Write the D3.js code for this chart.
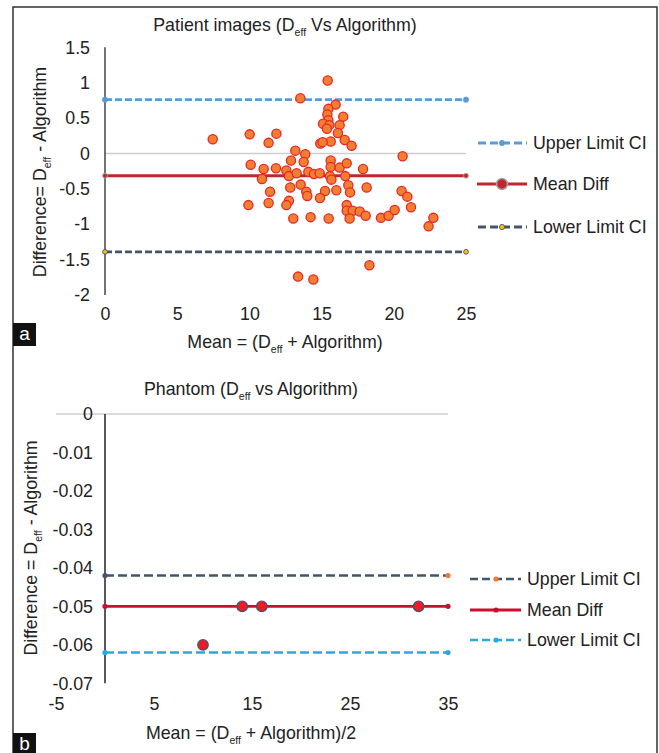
<!DOCTYPE html>
<html><head><meta charset="utf-8">
<script src="https://cdn.jsdelivr.net/npm/d3@7"></script>
<style>
html,body{margin:0;padding:0;background:#fff;}
text{font-family:"Liberation Sans",Arial,sans-serif;fill:#222;}
</style></head>
<body>
<svg id="chart" width="659" height="753"></svg>
<script>
// ---------- Panel a: patient images ----------
const patientMean = [7.46,10.02,11.87,11.33,13.53,15.42,15.97,15.47,15.40,15.47,15.10,15.54,15.37,16.50,16.25,16.13,16.60,17.08,15.63,14.91,15.07,13.18,13.87,20.61,10.09,10.99,11.84,10.87,12.88,13.76,15.63,15.63,16.25,16.74,17.87,12.56,12.74,13.27,14.08,14.47,14.87,15.58,15.68,16.64,16.85,16.97,18.12,16.02,15.24,13.55,12.83,13.94,14.01,14.89,11.43,11.33,9.93,12.74,12.56,13.04,14.24,15.49,16.74,16.74,17.15,16.94,17.64,18.05,19.11,19.64,20.06,20.54,20.94,21.19,22.41,22.74,18.31,13.37,14.43];
const patientDiff = [0.20,0.27,0.28,0.15,0.78,1.03,0.69,0.63,0.55,0.47,0.42,0.40,0.35,0.52,0.40,0.29,0.19,0.11,0.17,0.14,0.16,0.04,-0.01,-0.04,-0.16,-0.22,-0.21,-0.36,-0.10,-0.12,-0.10,-0.19,-0.20,-0.14,-0.22,-0.24,-0.32,-0.28,-0.26,-0.29,-0.28,-0.32,-0.37,-0.32,-0.45,-0.55,-0.48,-0.52,-0.53,-0.44,-0.48,-0.54,-0.60,-0.63,-0.54,-0.70,-0.73,-0.67,-0.73,-0.92,-0.90,-0.92,-0.73,-0.81,-0.81,-0.92,-0.82,-0.88,-0.91,-0.88,-0.80,-0.53,-0.61,-0.76,-1.03,-0.91,-1.58,-1.74,-1.78];
const patientLimitNames = ["Upper Limit CI","Mean Diff","Lower Limit CI"];
const patientLimitValues = [0.76,-0.315,-1.39];
const patientLimitRange = [0,25];
const patientXTicks = [0,5,10,15,20,25];
const patientYTicks = [1.5,1,0.5,0,-0.5,-1,-1.5,-2];

// ---------- Panel b: phantom ----------
const phantomMean = [14,16,32,10];
const phantomDiff = [-0.05,-0.05,-0.05,-0.06];
const phantomLimitNames = ["Upper Limit CI","Mean Diff","Lower Limit CI"];
const phantomLimitValues = [-0.042,-0.05,-0.062];
const phantomLimitRange = [0,35];
const phantomXTicks = [-5,5,15,25,35];
const phantomYTicks = [0,-0.01,-0.02,-0.03,-0.04,-0.05,-0.06,-0.07];

const svg = d3.select("#chart");
const FS = 17.8;

// frame
svg.append("path").attr("d","M13,753 L13,7 L657,7 L657,753")
  .attr("fill","none").attr("stroke","#333").attr("stroke-width",1.5);

function subText(g, x, y, parts, opts={}) {
  const t = g.append("text").attr("x",x).attr("y",y)
    .attr("text-anchor","middle").attr("font-size",FS);
  if (opts.rotate) t.attr("transform",`rotate(-90,${x},${y})`);
  parts.forEach(p=>{
    const s = t.append("tspan").text(p.t);
    if (p.sub) s.attr("font-size",10.5).attr("dy",5);
    if (p.after) s.attr("dy",-5);
  });
  return t;
}

function panelLabel(y, ch) {
  svg.append("rect").attr("x",13).attr("y",y).attr("width",23).attr("height",23).attr("fill","#111");
  svg.append("text").attr("x",24.5).attr("y",y+17).attr("text-anchor","middle")
    .attr("font-size",19).style("fill","#fff").text(ch);
}

// ===== Panel a =====
{
  const x = d3.scaleLinear().domain([0,25]).range([105,466]);
  const y = d3.scaleLinear().domain([-2,1.5]).range([295,47.3]);
  const g = svg.append("g");

  g.append("line").attr("x1",x(0)).attr("x2",x(25)).attr("y1",y(0)).attr("y2",y(0))
    .attr("stroke","#cfcfcf").attr("stroke-width",1.5);
  g.append("line").attr("x1",x(0)).attr("x2",x(0)).attr("y1",y(1.5)).attr("y2",y(-2))
    .attr("stroke","#444").attr("stroke-width",1.5);

  const ya = g.append("g").attr("transform",`translate(${x(0)},0)`)
    .call(d3.axisLeft(y).tickValues(patientYTicks).tickSize(0).tickPadding(15).tickFormat(d=>String(d)));
  ya.select(".domain").remove();
  ya.selectAll("text").attr("font-size",FS).attr("font-family",null).style("fill","#222");

  const xa = g.append("g").attr("transform",`translate(0,307)`)
    .call(d3.axisBottom(x).tickValues(patientXTicks).tickSize(0).tickPadding(0).tickFormat(d=>String(d)));
  xa.select(".domain").remove();
  xa.selectAll("text").attr("font-size",FS).attr("font-family",null).style("fill","#222");

  const styles = [
    {color:"#5b9bd5", dash:"7,3", w:2.8, mfill:"#5b9bd5", mstroke:"#5b9bd5", r:2.6, lr:2.6},
    {color:"#c0272d", dash:null, w:3, mfill:"#c0272d", mstroke:"#a5a5a5", r:2.4, lr:5.5},
    {color:"#44546a", dash:"7,3", w:2.8, mfill:"#ffc000", mstroke:"#44546a", r:2.4, lr:2.6}
  ];
  patientLimitValues.forEach((v,i)=>{
    const s = styles[i];
    const ln = g.append("line").attr("x1",x(patientLimitRange[0])).attr("x2",x(patientLimitRange[1]))
      .attr("y1",y(v)).attr("y2",y(v)).attr("stroke",s.color).attr("stroke-width",s.w);
    if (s.dash) ln.attr("stroke-dasharray",s.dash);
    patientLimitRange.forEach(xv=>{
      g.append("circle").attr("cx",x(xv)).attr("cy",y(v)).attr("r",s.r)
        .attr("fill",s.mfill).attr("stroke",s.mstroke).attr("stroke-width",0.9);
    });
  });

  g.selectAll("circle.pt").data(patientMean.map((m,i)=>[m,patientDiff[i]])).enter()
    .append("circle").attr("class","pt")
    .attr("cx",d=>x(d[0])).attr("cy",d=>y(d[1])).attr("r",4.6)
    .attr("fill","#f0802f").attr("stroke","#e8262a").attr("stroke-width",1.3);

  const ly = [143,184,227];
  patientLimitNames.forEach((n,i)=>{
    const s = styles[i];
    const ln = g.append("line").attr("x1",477).attr("x2",527).attr("y1",ly[i]).attr("y2",ly[i])
      .attr("stroke",s.color).attr("stroke-width",s.w);
    if (s.dash) ln.attr("stroke-dasharray","8,4").attr("stroke-dashoffset",-1);
    g.append("circle").attr("cx",502).attr("cy",ly[i]).attr("r",s.lr)
      .attr("fill",s.mfill).attr("stroke",s.mstroke).attr("stroke-width",i===1?1.5:0.9);
    g.append("text").attr("x",533).attr("y",ly[i]+6).attr("font-size",FS).text(n);
  });

  subText(g, 285, 31, [{t:"Patient images (D"},{t:"eff",sub:true},{t:" Vs Algorithm)",after:true}]);
  subText(g, 285, 348, [{t:"Mean = (D"},{t:"eff",sub:true},{t:" + Algorithm)",after:true}]);
  subText(g, 46, 172, [{t:"Difference= D"},{t:"eff",sub:true},{t:" - Algorithm",after:true}], {rotate:true});
  panelLabel(323,"a");
}

// ===== Panel b =====
{
  const x = d3.scaleLinear().domain([-5,35]).range([56,448]);
  const y = d3.scaleLinear().domain([-0.07,0]).range([683.3,414]);
  const g = svg.append("g");

  g.append("line").attr("x1",x(-5)).attr("x2",x(35)).attr("y1",y(0)).attr("y2",y(0))
    .attr("stroke","#cfcfcf").attr("stroke-width",1.5);
  g.append("line").attr("x1",x(0)).attr("x2",x(0)).attr("y1",y(0)).attr("y2",y(-0.07))
    .attr("stroke","#222").attr("stroke-width",1.5);

  const ya = g.append("g").attr("transform",`translate(${x(0)},0)`)
    .call(d3.axisLeft(y).tickValues(phantomYTicks).tickSize(0).tickPadding(12).tickFormat(d=>String(d)));
  ya.select(".domain").remove();
  ya.selectAll("text").attr("font-size",FS).attr("font-family",null).style("fill","#222");

  const xa = g.append("g").attr("transform",`translate(0,697)`)
    .call(d3.axisBottom(x).tickValues(phantomXTicks).tickSize(0).tickPadding(0).tickFormat(d=>String(d)));
  xa.select(".domain").remove();
  xa.selectAll("text").attr("font-size",FS).attr("font-family",null).style("fill","#222");

  const styles = [
    {color:"#44546a", dash:"9,4", w:2.5, m:["#44546a","#ed7d31"], lm:"#ed7d31"},
    {color:"#c8102e", dash:null, w:2.8, m:["#c8102e","#c8102e"], lm:"#c8102e"},
    {color:"#2aa8e0", dash:"9,4", w:2.5, m:["#2aa8e0","#2aa8e0"], lm:"#2aa8e0"}
  ];
  phantomLimitValues.forEach((v,i)=>{
    const s = styles[i];
    const ln = g.append("line").attr("x1",x(phantomLimitRange[0])).attr("x2",x(phantomLimitRange[1]))
      .attr("y1",y(v)).attr("y2",y(v)).attr("stroke",s.color).attr("stroke-width",s.w);
    if (s.dash) ln.attr("stroke-dasharray",s.dash);
    phantomLimitRange.forEach((xv,j)=>{
      g.append("circle").attr("cx",x(xv)).attr("cy",y(v)).attr("r",2.6).attr("fill",s.m[j]);
    });
  });

  g.selectAll("circle.pt").data(phantomMean.map((m,i)=>[m,phantomDiff[i]])).enter()
    .append("circle").attr("class","pt")
    .attr("cx",d=>x(d[0])).attr("cy",d=>y(d[1])).attr("r",5.2)
    .attr("fill","#ee1c25").attr("stroke","#44546a").attr("stroke-width",1.4);

  const ly = [579,610,640];
  phantomLimitNames.forEach((n,i)=>{
    const s = styles[i];
    const ln = g.append("line").attr("x1",470).attr("x2",521).attr("y1",ly[i]).attr("y2",ly[i])
      .attr("stroke",s.color).attr("stroke-width",s.w);
    if (s.dash) ln.attr("stroke-dasharray","8,4");
    g.append("circle").attr("cx",496).attr("cy",ly[i]).attr("r",2.6).attr("fill",s.lm);
    g.append("text").attr("x",527).attr("y",ly[i]+6).attr("font-size",FS).text(n);
  });

  subText(g, 251, 395, [{t:"Phantom (D"},{t:"eff",sub:true},{t:" vs Algorithm)",after:true}]);
  subText(g, 251, 739, [{t:"Mean = (D"},{t:"eff",sub:true},{t:" + Algorithm)/2",after:true}]);
  subText(g, 37, 548, [{t:"Difference = D"},{t:"eff",sub:true},{t:" - Algorithm",after:true}], {rotate:true});
  panelLabel(733,"b");
}
</script>
</body></html>
